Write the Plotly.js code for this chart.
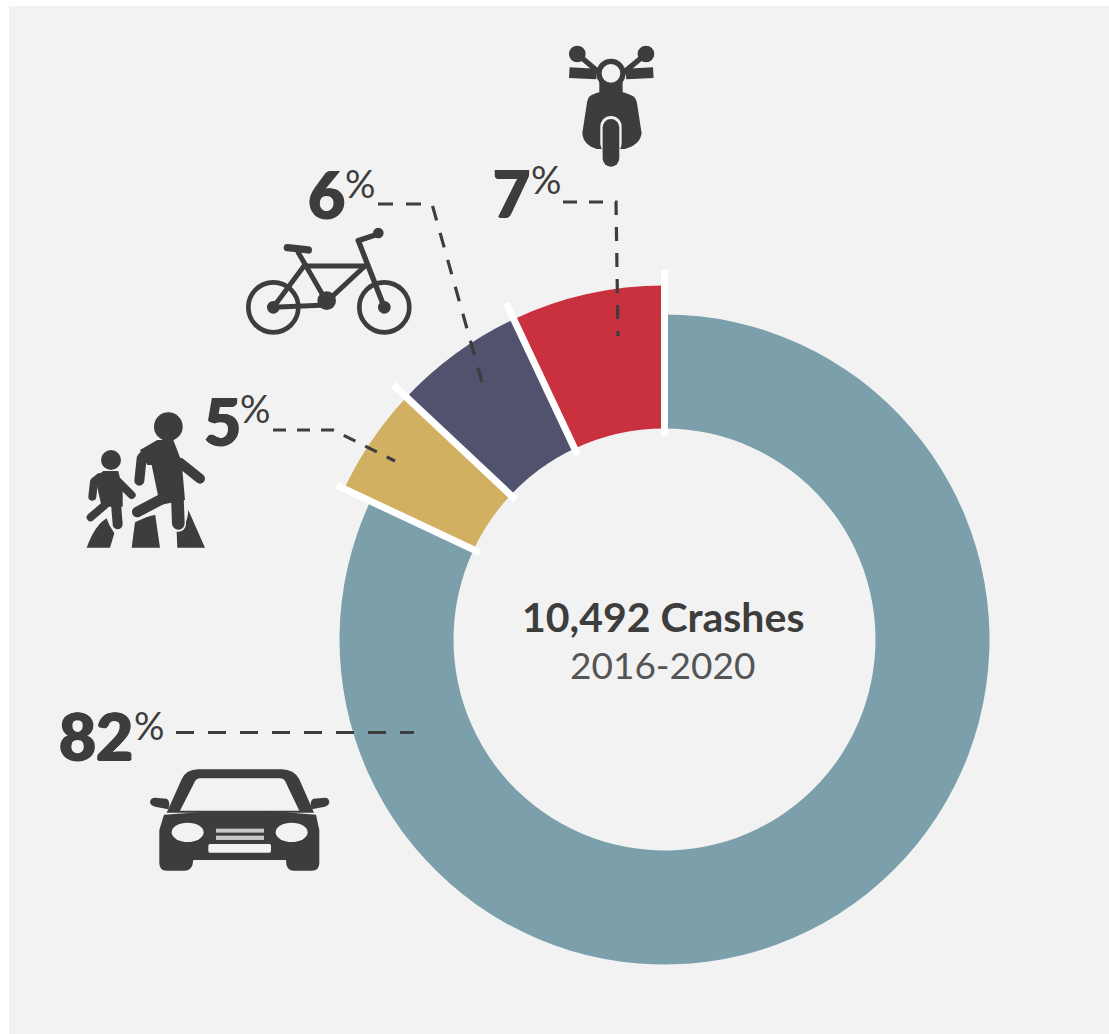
<!DOCTYPE html>
<html>
<head>
<meta charset="utf-8">
<script src="https://cdn.plot.ly/plotly-3.0.1.min.js"></script>
<style>html,body{margin:0;padding:0;background:#fff;overflow:hidden}#chart{width:1109px;height:1034px}</style>
</head>
<body>
<div id="chart"></div>
<script>
var categories = ['Car', 'Pedestrian', 'Bicycle', 'Motorcycle'];
var values = [82, 5, 6, 7];
var colors = ['#7ba0ac', '#d1b061', '#50526e', '#c9313f'];
var pctLabels = ['82', '5', '6', '7'];
var centerBold = '10,492 Crashes';
var centerPlain = '2016-2020';

var W = 1109, H = 1034, CX = 664.5, CY = 639.5;
var DARK = '#3d3d3d', BG = '#f2f2f2', NONE = 'rgba(0,0,0,0)';
function px(x) { return x / W; }
function py(y) { return 1 - y / H; }
function dom(r) {
  return { x: [px(CX - r), px(CX + r)], y: [py(CY + r), py(CY - r)] };
}
function pie(r, inner, cols) {
  return {
    type: 'pie', values: values, labels: categories, sort: false, direction: 'clockwise', rotation: 0,
    hole: inner / r, domain: dom(r), textinfo: 'none', hoverinfo: 'skip', showlegend: false,
    marker: { colors: cols, line: { width: 0 } }
  };
}
var traces = [
  pie(325, 211, [colors[0], NONE, NONE, NONE]),
  pie(354, 211, [NONE, colors[1], colors[2], colors[3]])
];

var shapes = [{
  type: 'rect', xref: 'paper', yref: 'paper', layer: 'below',
  x0: px(9), x1: 1, y0: 0, y1: py(6), fillcolor: BG, line: { width: 0 }
}];

// White separators at the slice boundaries, derived from the values
var total = values.reduce(function (a, b) { return a + b; }, 0);
var cum = 0;
var sepOuter = [362, 372, 372, 370];
values.forEach(function (v, i) {
  cum += v;
  var a = (cum / total) * 2 * Math.PI;
  var rIn = 204;
  shapes.push({
    type: 'line', xref: 'paper', yref: 'paper', layer: 'above',
    x0: px(CX + rIn * Math.sin(a)), y0: py(CY - rIn * Math.cos(a)),
    x1: px(CX + sepOuter[i] * Math.sin(a)), y1: py(CY - sepOuter[i] * Math.cos(a)),
    line: { color: '#ffffff', width: 7 }
  });
});

// Dashed leader lines
function leader(pts, dash) {
  var d = pts.map(function (p, i) {
    return (i ? 'L' : 'M') + px(p[0]) + ',' + py(p[1]);
  }).join(' ');
  shapes.push({
    type: 'path', xref: 'paper', yref: 'paper', layer: 'above', path: d,
    line: { color: DARK, width: 3.2, dash: dash }
  });
}
leader([[176, 732.5], [414, 732.5]], '18px,14px');
leader([[273, 430], [333, 430], [395, 461]], '13px,11px');
leader([[378, 204], [432, 204], [482, 382]], '15px,13px');
leader([[563, 202], [616, 202], [618, 336]], '14px,12px');

// Pictograms, each drawn in the coordinates of a 3x crop
var d = DARK, g = BG;
function L(x1, y1, x2, y2, w, c, cap) {
  return '<line x1="' + x1 + '" y1="' + y1 + '" x2="' + x2 + '" y2="' + y2 + '" stroke="' + (c || d) + '" stroke-width="' + w + '" stroke-linecap="' + (cap || 'round') + '"/>';
}
function PL(pts, w) {
  return '<polyline points="' + pts + '" fill="none" stroke="' + d + '" stroke-width="' + w + '" stroke-linecap="round" stroke-linejoin="round"/>';
}
function C(x, y, r, f) { return '<circle cx="' + x + '" cy="' + y + '" r="' + r + '" fill="' + (f || d) + '"/>'; }
function P(s, f) { return '<path d="' + s + '" fill="' + (f || d) + '" fill-rule="evenodd"/>'; }
function group(x, y, s) { return '<g transform="translate(' + x + ',' + y + ') scale(0.3333)">' + s + '</g>'; }

var walker = group(60, 390,
  P('M80,473 Q105,405 140,385 L148,405 L163,430 L150,473 Z') +
  P('M215,473 L225,397 L285,370 L300,473 Z') +
  P('M352,473 L350,425 Q382,412 385,360 L435,473 Z') +
  L(318, 345, 232, 366, 42, g) + L(355, 355, 355, 402, 46, g) +
  L(170, 365, 173, 403, 38, g) +
  C(325, 110, 43) +
  P('M240,180 L292,150 L340,150 L365,215 L375,330 L300,345 L275,225 L262,225 Z') +
  PL('258,190 245,205 238,272', 30) +
  L(360, 218, 420, 266, 30) +
  L(310, 325, 232, 366, 32) + L(352, 320, 355, 400, 38) +
  C(153, 210, 30) +
  P('M105,262 L130,243 L175,243 L188,300 L188,350 L125,350 Z') +
  PL('118,262 102,275 97,320', 24) +
  L(170, 270, 215, 315, 24) +
  L(135, 345, 92, 382, 24) + L(168, 340, 173, 403, 30)
);
var moto = group(230, 30,
  C(1042, 72, 25) + C(1248, 72, 25) +
  L(1042, 72, 1110, 130, 16) + L(1248, 72, 1178, 130, 16) +
  L(1018, 128, 1100, 132, 32, d, 'butt') + L(1188, 132, 1270, 128, 32, d, 'butt') +
  P('M1108,130 L1178,130 L1178,190 L1108,190 Z') +
  '<circle cx="1143" cy="130" r="36" fill="' + g + '" stroke="' + d + '" stroke-width="16"/>' +
  P('M1085,195 Q1143,170 1202,195 Q1220,200 1222,225 L1235,310 Q1230,345 1185,357 L1100,357 Q1060,345 1057,310 L1070,225 Q1072,200 1085,195 Z') +
  L(1143, 290, 1143, 340, 64, g) + L(1143, 292, 1143, 385, 50)
);
var bike = group(230, 30,
  '<circle cx="130" cy="832" r="75" fill="none" stroke="' + d + '" stroke-width="14"/>' +
  '<circle cx="463" cy="832" r="75" fill="none" stroke="' + d + '" stroke-width="14"/>' +
  L(130, 832, 290, 825, 15) + L(130, 832, 222, 708, 15) + L(222, 708, 408, 708, 15) +
  L(205, 668, 290, 815, 15) + L(405, 708, 290, 815, 15) + L(385, 632, 463, 832, 16) +
  L(385, 632, 445, 612, 16) + C(445, 609, 16) + L(172, 653, 235, 660, 22) +
  C(290, 812, 28) + C(130, 832, 19) + C(463, 832, 19) +
  L(185, 785, 203, 812, 7)
);
var car = group(40, 690,
  P('M380,368 L425,268 Q438,238 475,238 L725,238 Q762,238 778,268 L822,368 Z M420,362 L778,362 L735,272 Q730,265 720,265 L480,265 Q470,265 465,274 Z') +
  P('M372,374 Q600,352 828,374 L838,420 L838,520 Q838,542 815,542 L760,542 Q738,542 738,510 L460,510 Q458,542 435,542 L380,542 Q358,542 358,520 L358,420 Z') +
  P('M345,323 L380,326 Q388,330 388,345 L385,358 L345,350 Q330,345 330,335 Q332,323 345,323 Z') +
  P('M855,323 L820,326 Q812,330 812,345 L815,358 L855,350 Q868,345 868,335 Q866,323 855,323 Z') +
  '<ellipse cx="443" cy="427" rx="48" ry="29" fill="' + g + '"/>' +
  '<ellipse cx="755" cy="427" rx="48" ry="29" fill="' + g + '"/>' +
  '<rect x="528" y="416" width="144" height="12" fill="#c9c9c9"/>' +
  '<rect x="528" y="437" width="144" height="13" fill="#c9c9c9"/>' +
  '<rect x="505" y="462" width="188" height="26" rx="5" fill="' + g + '"/>'
);
var svg = '<svg xmlns="http://www.w3.org/2000/svg" width="' + W + '" height="' + H + '" viewBox="0 0 ' + W + ' ' + H + '">' +
  walker + moto + bike + car + '</svg>';

var images = [{
  source: 'data:image/svg+xml;base64,' + btoa(svg),
  xref: 'paper', yref: 'paper', x: 0, y: 1, sizex: 1, sizey: 1,
  xanchor: 'left', yanchor: 'top', sizing: 'stretch', layer: 'above'
}];

// Text
var FF = 'Lato, "Open Sans", sans-serif';
var THICK = '1px 0 0 ' + DARK + ', -1px 0 0 ' + DARK + ', 0 1px 0 ' + DARK;
function note(text, x, y, size, weight, color, shadow) {
  var font = { family: FF, size: size, weight: weight, color: color || DARK };
  if (shadow) font.shadow = shadow;
  return {
    text: text, xref: 'paper', yref: 'paper', x: px(x), y: py(y), showarrow: false,
    xanchor: 'center', yanchor: 'middle', font: font
  };
}
var numberPos = [[96, 735], [222, 421], [326, 194], [511, 192]];
var percentPos = [[149, 725], [255, 408], [360, 183], [546, 179]];
var annotations = [
  note(centerBold, 663, 616, 41, 700),
  note(centerPlain, 662, 664, 37, 400, '#555555')
];
pctLabels.forEach(function (t, i) {
  annotations.push(note(t, numberPos[i][0], numberPos[i][1], 64, 900, DARK, THICK));
  annotations.push(note('%', percentPos[i][0], percentPos[i][1], 38, 400));
});

Plotly.newPlot('chart', traces, {
  width: W, height: H, margin: { l: 0, r: 0, t: 0, b: 0 },
  paper_bgcolor: '#ffffff', plot_bgcolor: NONE, showlegend: false,
  shapes: shapes, images: images, annotations: annotations
}, { displayModeBar: false, staticPlot: true });
</script>
</body>
</html>
